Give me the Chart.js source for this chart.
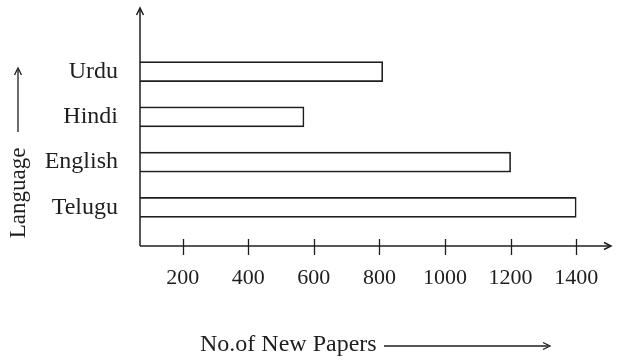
<!DOCTYPE html>
<html>
<head>
<meta charset="utf-8">
<script src="https://cdn.jsdelivr.net/npm/chart.js@4/dist/chart.umd.min.js"></script>
<style>
    html, body { margin: 0; padding: 0; background: #fff; }
    #wrap { width: 620px; height: 360px; }
</style>
</head>
<body>
<div id="wrap"><canvas id="bar_chart" width="620" height="360"></canvas></div>
<script>
// data
const languages = ['Urdu', 'Hindi', 'English', 'Telugu'];
const papers = [810, 570, 1200, 1400];
const xTicks = [200, 400, 600, 800, 1000, 1200, 1400];
const xTitle = 'No.of New Papers';
const yTitle = 'Language';

const ink = '#1e1e1e';
const serif = "'Liberation Serif', 'DejaVu Serif', serif";

// axes with arrows, tick marks and the two titles
const axesPlugin = {
    id: 'axesPlugin',
    afterDraw: function (chart) {
        let ctx = chart.ctx;
        let area = chart.chartArea;
        let xs = chart.scales.x;
        let axisY = area.bottom + 16;
        let left = area.left;

        ctx.save();
        ctx.strokeStyle = ink;
        ctx.fillStyle = ink;
        ctx.lineWidth = 1.5;

        // y axis
        ctx.beginPath();
        ctx.moveTo(left, axisY);
        ctx.lineTo(left, area.top - 40);
        ctx.stroke();
        arrowHead(ctx, left, area.top - 41, 'up');

        // x axis
        ctx.beginPath();
        ctx.moveTo(left, axisY);
        ctx.lineTo(610, axisY);
        ctx.stroke();
        arrowHead(ctx, 611, axisY, 'right');

        // tick marks
        ctx.lineWidth = 1.3;
        xs.ticks.forEach(function (t) {
            let px = Math.round(xs.getPixelForValue(t.value)) + 0.5;
            ctx.beginPath();
            ctx.moveTo(px, axisY - 7);
            ctx.lineTo(px, axisY + 9);
            ctx.stroke();
        });

        // x title with arrow
        ctx.font = '24px ' + serif;
        ctx.textAlign = 'left';
        ctx.textBaseline = 'middle';
        ctx.fillText(xTitle, 200, 345);
        ctx.lineWidth = 1.3;
        ctx.beginPath();
        ctx.moveTo(384, 346);
        ctx.lineTo(548, 346);
        ctx.stroke();
        arrowHead(ctx, 550, 346, 'right');

        // y title with arrow
        ctx.font = '23px ' + serif;
        ctx.save();
        ctx.translate(19, 193);
        ctx.rotate(-Math.PI / 2);
        ctx.textAlign = 'center';
        ctx.fillText(yTitle, 0, 0);
        ctx.restore();
        ctx.beginPath();
        ctx.moveTo(18, 132);
        ctx.lineTo(18, 70);
        ctx.stroke();
        arrowHead(ctx, 18, 68, 'up');

        ctx.restore();
    }
};

function arrowHead(ctx, x, y, dir) {
    ctx.beginPath();
    if (dir === 'up') {
        ctx.moveTo(x - 3.5, y + 7);
        ctx.lineTo(x, y);
        ctx.lineTo(x + 3.5, y + 7);
    } else {
        ctx.moveTo(x - 7, y - 3.5);
        ctx.lineTo(x, y);
        ctx.lineTo(x - 7, y + 3.5);
    }
    ctx.stroke();
}

let ctx = document.getElementById('bar_chart').getContext('2d');
let myChart = new Chart(ctx, {
    type: 'bar',
    data: {
        labels: languages,
        datasets: [{
            label: xTitle,
            data: papers,
            backgroundColor: '#ffffff',
            borderColor: ink,
            borderWidth: 1.6,
            borderSkipped: false,
            barThickness: 20
        }]
    },
    options: {
        indexAxis: 'y',
        responsive: false,
        animation: false,
        layout: {
            padding: { top: 49, left: 40, right: 11, bottom: 70 }
        },
        plugins: {
            legend: { display: false },
            tooltip: { enabled: false }
        },
        scales: {
            x: {
                min: 70,
                max: 1500,
                grid: { display: false, drawTicks: false },
                border: { display: false },
                afterBuildTicks: function (scale) {
                    scale.ticks = xTicks.map(function (v) { return { value: v }; });
                },
                afterFit: function (scale) {
                    scale.height = 60;
                    scale.paddingLeft = 0;
                    scale.paddingRight = 0;
                },
                ticks: {
                    padding: 35,
                    color: ink,
                    font: { family: serif, size: 22 },
                    callback: function (v) { return String(v); }
                }
            },
            y: {
                grid: { display: false, drawTicks: false },
                border: { display: false },
                afterFit: function (scale) { scale.width = 100; },
                ticks: {
                    padding: 22,
                    color: ink,
                    font: { family: serif, size: 24 }
                }
            }
        }
    },
    plugins: [axesPlugin]
});
</script>
</body>
</html>
